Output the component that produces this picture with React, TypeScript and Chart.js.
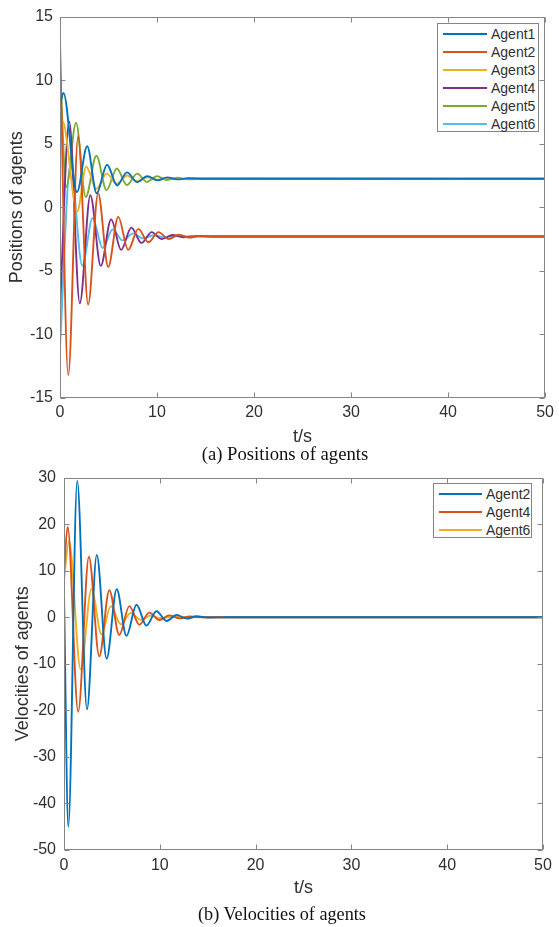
import React, { useEffect, useRef } from "react";
import { Chart, registerables } from "chart.js";

Chart.register(...registerables);

// ---------- data ----------
const timeTicks = [0, 10, 20, 30, 40, 50];
const posTicks = [-15, -10, -5, 0, 5, 10, 15];
const velTicks = [-50, -40, -30, -20, -10, 0, 10, 20, 30];

const posNames = ["Agent1", "Agent2", "Agent3", "Agent4", "Agent5", "Agent6"];
const velNames = ["Agent2", "Agent4", "Agent6"];

// positions (t in s, value)
const tAgent1 = [0, 0.35, 1.75, 2.8, 3.78, 4.85, 5.88, 6.9, 7.95, 9.0, 10.05, 11.05, 12.1, 13.2, 15, 50];
const pAgent1 = [8.0, 9.0, 1.2, 4.8, 1.1, 3.35, 1.72, 2.75, 1.98, 2.45, 2.12, 2.35, 2.2, 2.28, 2.24, 2.25];

const tAgent2 = [0, 0.85, 1.87, 2.9, 3.93, 4.97, 6.0, 7.03, 8.07, 9.1, 10.15, 11.2, 12.25, 13.3, 14.5, 16, 50];
const pAgent2 = [13.0, -13.2, 5.6, -7.65, 1.1, -4.7, -0.75, -3.35, -1.7, -2.75, -1.95, -2.5, -2.15, -2.38, -2.25, -2.3, -2.3];

const tAgent3 = [0, 0.25, 1.77, 2.7, 3.75, 4.8, 5.85, 6.9, 7.95, 9.0, 10.1, 11.2, 12.5, 14, 50];
const pAgent3 = [6.2, 6.8, -0.33, 3.2, 1.45, 2.65, 1.85, 2.5, 2.05, 2.35, 2.17, 2.3, 2.22, 2.26, 2.25];

const tAgent4 = [0, 0.95, 2.04, 3.13, 4.2, 5.27, 6.3, 7.35, 8.4, 9.45, 10.5, 11.6, 12.7, 14, 16, 50];
const pAgent4 = [-8.0, 6.75, -7.55, 0.95, -4.6, -0.95, -3.35, -1.6, -2.8, -1.95, -2.5, -2.18, -2.35, -2.27, -2.3, -2.3];

const tAgent5 = [0, 0.65, 1.65, 2.65, 3.75, 4.8, 5.85, 6.9, 7.95, 8.95, 10.0, 11.0, 12.1, 13.2, 15, 50];
const pAgent5 = [11.0, 1.6, 6.65, 0.8, 4.05, 1.35, 3.05, 1.75, 2.65, 2.0, 2.45, 2.15, 2.32, 2.2, 2.26, 2.25];

const tAgent6 = [0, 1.08, 2.3, 3.35, 4.4, 5.42, 6.45, 7.55, 8.55, 9.6, 10.7, 12, 14, 50];
const pAgent6 = [-11.0, 3.35, -4.6, -0.85, -3.2, -1.75, -2.6, -2.05, -2.45, -2.2, -2.35, -2.27, -2.3, -2.3];

// velocities
const tVel2 = [0, 0.45, 1.38, 2.4, 3.42, 4.45, 5.5, 6.52, 7.57, 8.6, 9.65, 10.7, 11.75, 12.8, 13.85, 15, 17, 50];
const vAgent2 = [5, -45, 29.3, -19.8, 13.4, -8.9, 6.0, -4.0, 2.7, -1.8, 1.3, -0.8, 0.5, -0.3, 0.2, -0.05, 0, 0];

const tVel4 = [0, 0.38, 1.48, 2.6, 3.68, 4.73, 5.77, 6.82, 7.86, 8.9, 9.95, 11.0, 12.05, 13.1, 14.5, 17, 50];
const vAgent4 = [10, 19.4, -20.3, 13.0, -8.4, 5.8, -3.8, 2.4, -1.6, 1.0, -0.6, 0.4, -0.25, 0.15, 0, 0, 0];

const tVel6 = [0, 0.52, 1.74, 2.87, 3.92, 4.88, 5.92, 6.95, 8.0, 9.05, 10.1, 11.2, 13, 50];
const vAgent6 = [8, 16.3, -11.2, 6.1, -3.7, 2.4, -1.5, 0.9, -0.55, 0.35, -0.2, 0.1, 0, 0];

// ---------- styles ----------
const C = {
  blue: "#0072BD",
  orange: "#D95319",
  yellow: "#EDB120",
  purple: "#7E2F8E",
  green: "#77AC30",
  cyan: "#4DBEEE",
};
const SANS = "'Liberation Sans', Arial, Helvetica, sans-serif";
const SERIF = "'Liberation Serif', 'Times New Roman', serif";
const TEXT = "#303030";
const BOX = "#858585";

const posSeries = [
  { name: posNames[0], t: tAgent1, v: pAgent1, color: C.blue },
  { name: posNames[1], t: tAgent2, v: pAgent2, color: C.orange },
  { name: posNames[2], t: tAgent3, v: pAgent3, color: C.yellow },
  { name: posNames[3], t: tAgent4, v: pAgent4, color: C.purple },
  { name: posNames[4], t: tAgent5, v: pAgent5, color: C.green },
  { name: posNames[5], t: tAgent6, v: pAgent6, color: C.cyan },
];
const velSeries = [
  { name: velNames[0], t: tVel2, v: vAgent2, color: C.blue },
  { name: velNames[1], t: tVel4, v: vAgent4, color: C.orange },
  { name: velNames[2], t: tVel6, v: vAgent6, color: C.yellow },
];

const boxPlugin = {
  id: "matlabBox",
  afterDatasetsDraw(chart: any) {
    const { ctx, chartArea: a, scales } = chart;
    ctx.save();
    ctx.strokeStyle = BOX;
    ctx.lineWidth = 1;
    const l = Math.round(a.left) + 0.5;
    const r = Math.round(a.right) - 0.5;
    const t = Math.round(a.top) + 0.5;
    const b = Math.round(a.bottom) - 0.5;
    ctx.strokeRect(l, t, r - l, b - t);
    const L = 5;
    ctx.beginPath();
    scales.x.ticks.forEach((tk: any) => {
      const px = Math.round(scales.x.getPixelForValue(tk.value)) + 0.5;
      ctx.moveTo(px, b);
      ctx.lineTo(px, b - L);
      ctx.moveTo(px, t);
      ctx.lineTo(px, t + L);
    });
    scales.y.ticks.forEach((tk: any) => {
      const py = Math.round(scales.y.getPixelForValue(tk.value)) + 0.5;
      ctx.moveTo(l, py);
      ctx.lineTo(l + L, py);
      ctx.moveTo(r, py);
      ctx.lineTo(r - L, py);
    });
    ctx.stroke();
    ctx.restore();
  },
};

type PanelProps = {
  top: number;
  height: number;
  series: { name: string; t: number[]; v: number[]; color: string }[];
  yTicks: number[];
  xTicks: number[];
  yTitle: string;
  yWidth: number;
  xHeight: number;
  padTop: number;
  padRight: number;
  yTitlePad: number;
  xTickPad: number;
  yTickPad: number;
};

function Panel(p: PanelProps) {
  const ref = useRef<HTMLCanvasElement | null>(null);
  useEffect(() => {
    if (!ref.current) return;
    const yStep = p.yTicks[1] - p.yTicks[0];
    const xStep = p.xTicks[1] - p.xTicks[0];
    const chart = new Chart(ref.current, {
      type: "line",
      data: {
        datasets: p.series.map((s) => ({
          label: s.name,
          data: s.t.map((t, i) => ({ x: t, y: s.v[i] })),
          borderColor: s.color,
          backgroundColor: s.color,
          borderWidth: 1.9,
          pointRadius: 0,
          fill: false,
          cubicInterpolationMode: "monotone" as const,
        })),
      },
      options: {
        animation: false,
        responsive: false,
        maintainAspectRatio: false,
        events: [],
        layout: { padding: { top: p.padTop, right: p.padRight, left: 0, bottom: 0 } },
        plugins: { legend: { display: false }, tooltip: { enabled: false } },
        scales: {
          x: {
            type: "linear",
            min: p.xTicks[0],
            max: p.xTicks[p.xTicks.length - 1],
            grid: { display: false, drawTicks: false },
            border: { display: false },
            ticks: {
              stepSize: xStep,
              padding: p.xTickPad,
              maxRotation: 0,
              autoSkip: false,
              color: TEXT,
              font: { family: SANS, size: 16 },
            },
            title: {
              display: true,
              text: "t/s",
              color: TEXT,
              padding: 0,
              font: { family: SANS, size: 18 },
            },
            afterFit: (s: any) => {
              s.height = p.xHeight;
            },
          },
          y: {
            type: "linear",
            min: p.yTicks[0],
            max: p.yTicks[p.yTicks.length - 1],
            grid: { display: false, drawTicks: false },
            border: { display: false },
            ticks: {
              stepSize: yStep,
              padding: p.yTickPad,
              autoSkip: false,
              color: TEXT,
              font: { family: SANS, size: 16 },
            },
            title: {
              display: true,
              text: p.yTitle,
              color: TEXT,
              padding: { top: p.yTitlePad, bottom: 0 },
              font: { family: SANS, size: 18 },
            },
            afterFit: (s: any) => {
              s.width = p.yWidth;
            },
          },
        },
      },
      plugins: [boxPlugin],
    });
    return () => chart.destroy();
  }, []);
  return (
    <canvas
      ref={ref}
      width={559}
      height={p.height}
      style={{ position: "absolute", left: 0, top: p.top, width: 559, height: p.height }}
    />
  );
}

type LegendProps = {
  left: number;
  top: number;
  width: number;
  height: number;
  items: { name: string; color: string }[];
  swatchLeft: number;
  swatchWidth: number;
  textLeft: number;
  firstRow: number;
  rowGap: number;
};

function Legend(l: LegendProps) {
  return (
    <div
      style={{
        position: "absolute",
        left: l.left,
        top: l.top,
        width: l.width,
        height: l.height,
        boxSizing: "border-box",
        border: `1px solid ${BOX}`,
        background: "#fff",
      }}
    >
      {l.items.map((it, i) => {
        const cy = l.firstRow + i * l.rowGap;
        return (
          <React.Fragment key={it.name}>
            <div
              style={{
                position: "absolute",
                left: l.swatchLeft,
                top: cy - 1,
                width: l.swatchWidth,
                height: 2,
                background: it.color,
              }}
            />
            <div
              style={{
                position: "absolute",
                left: l.textLeft,
                top: cy - 8,
                height: 16,
                lineHeight: "16px",
                fontFamily: SANS,
                fontSize: 14,
                color: TEXT,
                whiteSpace: "nowrap",
              }}
            >
              {it.name}
            </div>
          </React.Fragment>
        );
      })}
    </div>
  );
}

function Caption({ text, top, center, size }: { text: string; top: number; center: number; size: number }) {
  return (
    <div
      style={{
        position: "absolute",
        left: center - 200,
        width: 400,
        top: top - 12,
        height: 24,
        lineHeight: "24px",
        textAlign: "center",
        fontFamily: SERIF,
        fontSize: size,
        color: "#111",
      }}
    >
      {text}
    </div>
  );
}

export default function App() {
  return (
    <div
      style={{
        position: "absolute",
        left: 0,
        top: 0,
        width: 559,
        height: 927,
        background: "#fff",
        overflow: "hidden",
      }}
    >
      <Panel
        top={0}
        height={448}
        series={posSeries}
        yTicks={posTicks}
        xTicks={timeTicks}
        yTitle="Positions of agents"
        yWidth={60}
        xHeight={50}
        padTop={10}
        padRight={9}
        yTitlePad={6}
        xTickPad={5}
        yTickPad={7}
      />
      <Legend
        left={437}
        top={23}
        width={102}
        height={109}
        items={posSeries.map((s) => ({ name: s.name, color: s.color }))}
        swatchLeft={5}
        swatchWidth={44}
        textLeft={53}
        firstRow={10}
        rowGap={18}
      />
      <Caption text="(a) Positions of agents" top={454} center={285} size={18.7} />
      <Panel
        top={460}
        height={439}
        series={velSeries}
        yTicks={velTicks}
        xTicks={timeTicks}
        yTitle="Velocities of agents"
        yWidth={64}
        xHeight={49}
        padTop={12}
        padRight={16}
        yTitlePad={12}
        xTickPad={6}
        yTickPad={8}
      />
      <Legend
        left={433}
        top={483}
        width={99}
        height={55}
        items={velSeries.map((s) => ({ name: s.name, color: s.color }))}
        swatchLeft={5}
        swatchWidth={43}
        textLeft={52}
        firstRow={10}
        rowGap={18}
      />
      <Caption text="(b) Velocities of agents" top={914} center={282} size={18.2} />
    </div>
  );
}
